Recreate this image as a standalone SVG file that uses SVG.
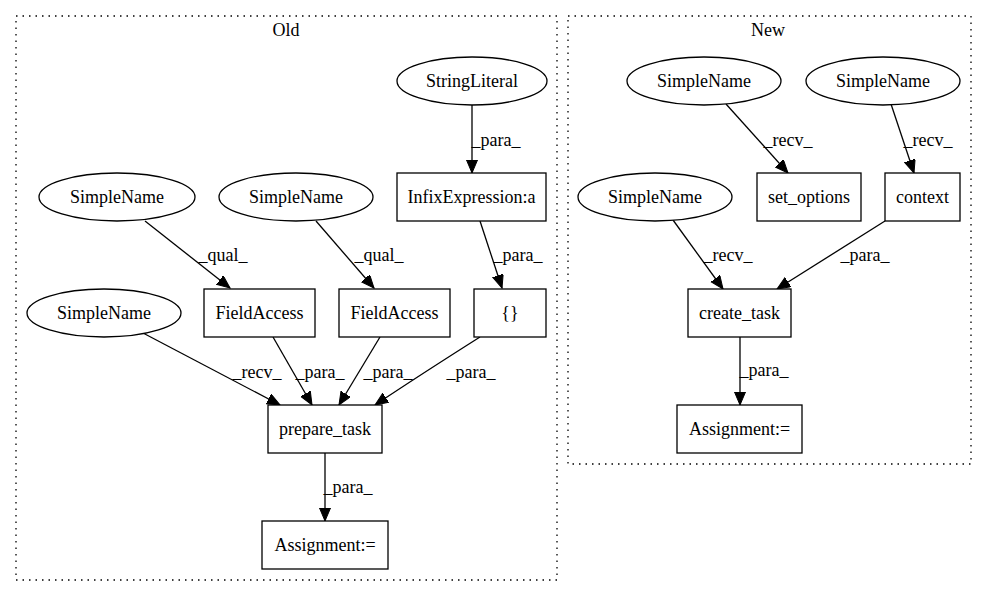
<svg xmlns="http://www.w3.org/2000/svg" width="987" height="596" viewBox="0 0 987 596">
<defs>
<style>
.cl{fill:none;stroke:#000;stroke-width:1.3;stroke-dasharray:1.5,5}
.n{fill:#fff;stroke:#000;stroke-width:1.3}
.t{font-family:"Liberation Serif","Times New Roman",serif;font-size:18px;text-anchor:middle;fill:#000}
.e{fill:none;stroke:#000;stroke-width:1.3;marker-end:url(#ah)}
</style>
<marker id="ah" markerUnits="userSpaceOnUse" markerWidth="14" markerHeight="12" refX="13" refY="5.5" orient="auto">
<path d="M0,0 L13,5.5 L0,11 z" fill="#000" stroke="#000" stroke-width="1"/>
</marker>
</defs>
<rect width="987" height="596" fill="#fff"/>
<g id="cluster_old">
<rect class="cl" x="16" y="16" width="541" height="564"/>
<text class="t" x="286" y="36">Old</text>
</g>
<g id="cluster_new">
<rect class="cl" x="568" y="16" width="403" height="448"/>
<text class="t" x="768" y="36">New</text>
</g>
<g id="edges">
<path class="e" d="M472,105 L472,173"/>
<text class="t" x="496" y="146">_para_</text>
<path class="e" d="M145,221 L230,288"/>
<text class="t" x="223" y="261">_qual_</text>
<path class="e" d="M316,221 L374,288"/>
<text class="t" x="379" y="261">_qual_</text>
<path class="e" d="M480,221 L502,288"/>
<text class="t" x="518" y="261">_para_</text>
<path class="e" d="M143,333 L280,405"/>
<text class="t" x="257" y="378">_recv_</text>
<path class="e" d="M273,337 L312,405"/>
<text class="t" x="320" y="378">_para_</text>
<path class="e" d="M380,337 L339,405"/>
<text class="t" x="388" y="378">_para_</text>
<path class="e" d="M480,337 Q420,375 375,405"/>
<text class="t" x="471" y="378">_para_</text>
<path class="e" d="M325,453 L325,521"/>
<text class="t" x="348" y="493">_para_</text>
<path class="e" d="M726,104 L788,173"/>
<text class="t" x="788" y="146">_recv_</text>
<path class="e" d="M891,104 L914,173"/>
<text class="t" x="928" y="146">_recv_</text>
<path class="e" d="M673,220 L723,289"/>
<text class="t" x="728" y="261">_recv_</text>
<path class="e" d="M885,221 L777,289"/>
<text class="t" x="865" y="261">_para_</text>
<path class="e" d="M740,337 L740,405"/>
<text class="t" x="764" y="376">_para_</text>
</g>
<g id="n_stringliteral"><ellipse class="n" cx="472" cy="81" rx="75" ry="24"/><text class="t" x="472" y="87">StringLiteral</text></g>
<g id="n_infix"><rect class="n" x="397" y="173" width="149" height="48"/><text class="t" x="471.5" y="203">InfixExpression:a</text></g>
<g id="n_simplename1"><ellipse class="n" cx="117" cy="197" rx="78" ry="24"/><text class="t" x="117" y="203">SimpleName</text></g>
<g id="n_simplename2"><ellipse class="n" cx="296" cy="197" rx="77" ry="24"/><text class="t" x="296" y="203">SimpleName</text></g>
<g id="n_fieldaccess1"><rect class="n" x="204" y="289" width="111" height="48"/><text class="t" x="259.5" y="319">FieldAccess</text></g>
<g id="n_fieldaccess2"><rect class="n" x="339" y="289" width="111" height="48"/><text class="t" x="394.5" y="319">FieldAccess</text></g>
<g id="n_braces"><rect class="n" x="474" y="289" width="72" height="48"/><text class="t" x="510" y="319">{}</text></g>
<g id="n_simplename3"><ellipse class="n" cx="104" cy="313" rx="77" ry="24"/><text class="t" x="104" y="319">SimpleName</text></g>
<g id="n_prepare_task"><rect class="n" x="268" y="405" width="114" height="48"/><text class="t" x="325" y="435">prepare_task</text></g>
<g id="n_assign_old"><rect class="n" x="262" y="521" width="126" height="48"/><text class="t" x="325" y="551">Assignment:=</text></g>
<g id="n_simplenameA"><ellipse class="n" cx="704" cy="81" rx="77" ry="24"/><text class="t" x="704" y="87">SimpleName</text></g>
<g id="n_simplenameB"><ellipse class="n" cx="883" cy="81" rx="77" ry="24"/><text class="t" x="883" y="87">SimpleName</text></g>
<g id="n_set_options"><rect class="n" x="757" y="173" width="104" height="48"/><text class="t" x="809" y="203">set_options</text></g>
<g id="n_context"><rect class="n" x="885" y="173" width="75" height="48"/><text class="t" x="922.5" y="203">context</text></g>
<g id="n_simplenameC"><ellipse class="n" cx="655" cy="197" rx="77" ry="24"/><text class="t" x="655" y="203">SimpleName</text></g>
<g id="n_create_task"><rect class="n" x="688" y="289" width="103" height="48"/><text class="t" x="739.5" y="319">create_task</text></g>
<g id="n_assign_new"><rect class="n" x="677" y="405" width="125" height="48"/><text class="t" x="739.5" y="435">Assignment:=</text></g>
</svg>
